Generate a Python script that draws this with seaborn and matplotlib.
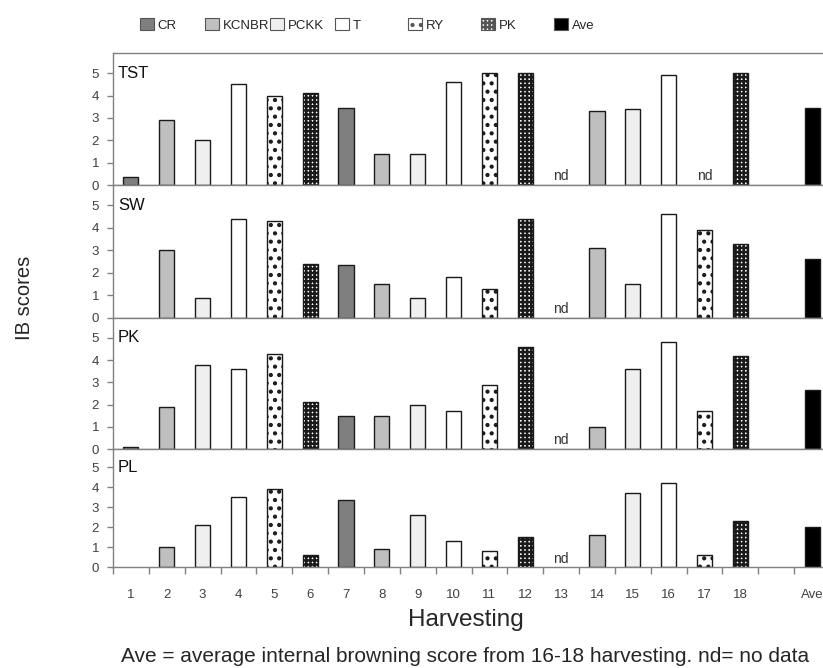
import matplotlib
matplotlib.use('Agg')
import matplotlib.pyplot as plt
from matplotlib.patches import Patch
import seaborn as sns
import numpy as np
import pandas as pd

sns.set_style('ticks')
plt.rcParams['font.family'] = ['Liberation Sans', 'DejaVu Sans']
plt.rcParams['hatch.linewidth'] = 1.8

# --- data ---------------------------------------------------------------
nan = np.nan
harvests = [str(i) for i in range(1, 19)]
cultivar_of_harvest = ['CR', 'KCNBR', 'PCKK', 'T', 'RY', 'PK',
                       'CR', 'KCNBR', 'PCKK', 'T', 'RY', 'PK',
                       'CR', 'KCNBR', 'PCKK', 'T', 'RY', 'PK']
locations = ['TST', 'SW', 'PK', 'PL']
tst = [0.35, 2.9, 2.0, 4.5, 4.0, 4.1, 3.45, 1.4, 1.4, 4.6, 5.0, 5.0, nan, 3.3, 3.4, 4.9, nan, 5.0]
sw = [0.0, 3.0, 0.9, 4.4, 4.3, 2.4, 2.35, 1.5, 0.9, 1.8, 1.3, 4.4, nan, 3.1, 1.5, 4.6, 3.9, 3.3]
pk = [0.1, 1.9, 3.8, 3.6, 4.3, 2.1, 1.5, 1.5, 2.0, 1.7, 2.9, 4.6, nan, 1.0, 3.6, 4.8, 1.7, 4.2]
pl = [0.0, 1.0, 2.1, 3.5, 3.9, 0.6, 3.35, 0.9, 2.6, 1.3, 0.8, 1.5, nan, 1.6, 3.7, 4.2, 0.6, 2.3]
ave_scores = [3.45, 2.6, 2.65, 2.0]

cultivars = ['CR', 'KCNBR', 'PCKK', 'T', 'RY', 'PK', 'Ave']
colors = ['#7f7f7f', '#bfbfbf', '#efefef', '#ffffff', '#ffffff', '#ffffff', '#000000']
hatches = [None, None, None, None, '..', '++++', None]

slot_order = harvests + [' ', 'Ave']

rows = []
for loc, vals, ave in zip(locations, [tst, sw, pk, pl], ave_scores):
    for h, c, v in zip(harvests, cultivar_of_harvest, vals):
        rows.append({'location': loc, 'slot': h, 'cultivar': c, 'score': v})
    rows.append({'location': loc, 'slot': 'Ave', 'cultivar': 'Ave', 'score': ave})
df = pd.DataFrame(rows)

W, H = 823, 668
fig, axes = plt.subplots(4, 1, figsize=(W / 100, H / 100), dpi=100,
                         gridspec_kw={'height_ratios': [132, 133, 131, 118], 'hspace': 0})
fig.subplots_adjust(left=113 / W, right=830 / W, top=1 - 53 / H, bottom=1 - 567 / H)

spine_col = '#808080'
for i, (ax, loc) in enumerate(zip(axes, locations)):
    sub = df[df.location == loc]
    for c, col, hat in zip(cultivars, colors, hatches):
        part = sub[(sub.cultivar == c) & (sub.score > 0)]
        sns.barplot(data=part, x='slot', y='score', order=slot_order, color=col,
                    saturation=1, width=0.42, edgecolor='#1a1a1a', linewidth=1.0,
                    hatch=hat, errorbar=None, ax=ax)
    # nd markers
    for j, v in enumerate(sub.score.values):
        if np.isnan(v):
            ax.text(j, 0.4, 'nd', ha='center', va='center', fontsize=10, color='#333333')
    ax.text(0.007, 5.0, loc, transform=ax.get_yaxis_transform(), ha='left', va='center',
            fontsize=12, color='#111111')
    ax.set_xlim(-0.5, 19.5)
    ax.set_ylim(0, 5.9)
    ax.set_yticks(range(6))
    ax.set_ylabel('')
    ax.set_xlabel('')
    ax.tick_params(axis='y', length=4, width=1, color=spine_col, labelsize=9.5, labelcolor='#404040', pad=6)
    for s in ax.spines.values():
        s.set_color(spine_col)
        s.set_linewidth(1.0)
    if i < 3:
        ax.set_xticks([])
    else:
        ax.set_xticks(np.arange(-0.5, 20, 1))
        ax.set_xticklabels([])
        ax.set_xticks(range(len(slot_order)), minor=True)
        ax.set_xticklabels(slot_order, minor=True)
        ax.tick_params(axis='x', which='major', length=5, width=1, color=spine_col, direction='out')
        ax.tick_params(axis='x', which='minor', length=0, labelsize=9.5, labelcolor='#404040', pad=16)

# legend entries, one per cultivar
legend_x = [140, 205, 270, 335, 408, 481, 554]
for c, col, hat, x in zip(cultivars, colors, hatches, legend_x):
    h = Patch(facecolor=col, edgecolor='#555555', hatch=hat, linewidth=0.8)
    fig.legend(handles=[h], labels=[c], loc='center left', bbox_to_anchor=(x / W, 1 - 25 / H),
               frameon=False, borderpad=0, borderaxespad=0, handlelength=1.05, handleheight=1.05,
               handletextpad=0.3, fontsize=9.5)

fig.text(25 / W, 1 - 298 / H, 'IB scores', rotation=90, ha='center', va='center', fontsize=14.5)
fig.text(466 / W, 1 - 620 / H, 'Harvesting', ha='center', va='center', fontsize=17.5)
fig.text(465 / W, 1 - 657 / H, 'Ave = average internal browning score from 16-18 harvesting. nd= no data',
         ha='center', va='center', fontsize=15)

fig.savefig('out.png', dpi=100)
